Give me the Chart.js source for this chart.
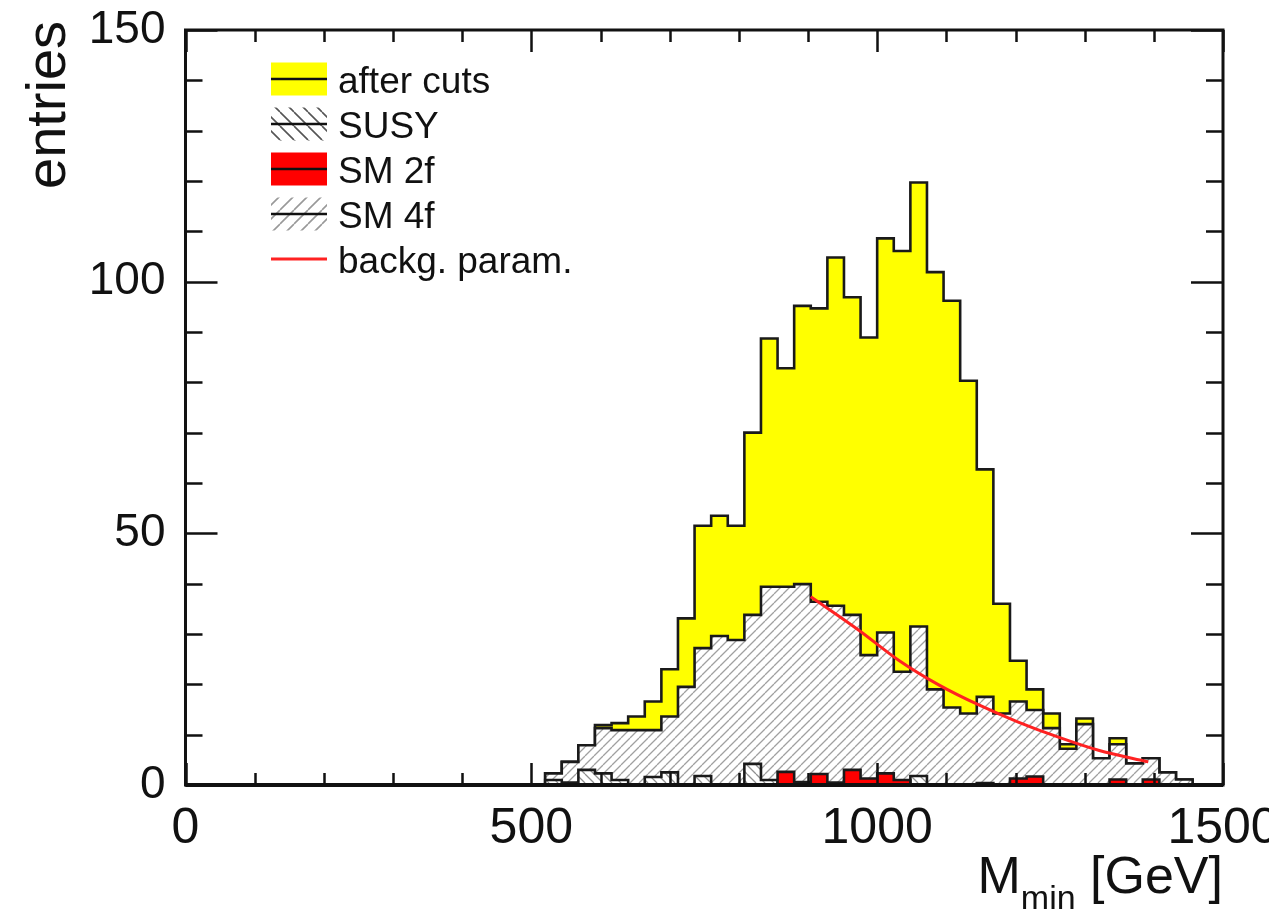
<!DOCTYPE html>
<html>
<head>
<meta charset="utf-8">
<title>M_min distribution</title>
<script src="https://cdn.jsdelivr.net/npm/chart.js@4.4.1/dist/chart.umd.min.js"></script>
<style>
    html, body { margin: 0; padding: 0; background: #ffffff; }
    canvas { display: block; }
</style>
</head>
<body>
<canvas id="mminChart" width="1269" height="913"></canvas>
<script>
// Bin edges in GeV (39 bins of 24 GeV, last entry is the upper edge)
const binEdges = [520, 544, 568, 592, 616, 640, 664, 688, 712, 736,
    760, 784, 808, 832, 856, 880, 904, 928, 952, 976,
    1000, 1024, 1048, 1072, 1096, 1120, 1144, 1168, 1192, 1216,
    1240, 1264, 1288, 1312, 1336, 1360, 1384, 1408, 1432, 1456];

// Entries per bin
const afterCuts = [2.3, 4.6, 7.9, 11.9, 12.3, 13.6, 16.6, 23.0, 33.1, 51.5,
    53.5, 51.5, 70.0, 88.7, 82.8, 95.2, 94.7, 104.8, 96.9, 88.9,
    108.6, 106.1, 119.7, 101.9, 96.2, 80.3, 62.7, 36.0, 24.7, 19.0,
    14.2, 8.1, 13.2, 5.3, 9.3, 4.3, 5.3, 2.5, 1.1];
const sm4f = [2.3, 4.6, 7.9, 11.3, 10.9, 10.9, 10.9, 13.6, 19.5, 27.2,
    29.6, 28.8, 33.8, 39.4, 39.4, 39.9, 36.4, 35.6, 33.8, 25.8,
    30.3, 22.5, 31.5, 19.0, 15.4, 14.2, 17.5, 14.2, 16.6, 14.9,
    11.3, 7.2, 12.1, 5.3, 8.1, 4.3, 5.3, 2.5, 1.1];
const susy = [1.0, 0.5, 3.0, 2.3, 1.0, 0, 1.6, 2.5, 0, 1.8,
    0, 0, 4.2, 1.0, 0.5, 0.6, 0.3, 0.5, 0.8, 0.5,
    0.4, 0.3, 1.8, 0, 0, 0, 0.4, 0, 0, 0,
    0, 0, 0, 0, 0, 0, 0, 0, 0];
const sm2f = [0, 0, 0, 0, 0, 0, 0, 0, 0, 0,
    0, 0, 0, 0, 2.6, 0, 2.2, 0, 3.0, 1.3,
    2.3, 1.0, 0, 0, 0, 0, 0, 0, 1.3, 1.7,
    0, 0, 0, 0, 1.1, 0, 1.1, 0, 0];

// Background parametrisation curve
const paramX = [904, 973, 1031, 1089, 1147, 1204, 1262, 1320, 1392];
const paramY = [37.4, 30.8, 24.8, 19.9, 15.9, 12.5, 9.5, 6.9, 4.6];

// Axis labels
const xTickLabels = [0, 500, 1000, 1500];
const yTickLabels = [0, 50, 100, 150];
const legendLabels = ['after cuts', 'SUSY', 'SM 2f', 'SM 4f', 'backg. param.'];

const FONT = "'Liberation Sans', Arial, Helvetica, sans-serif";
const TEXT_COLOR = '#111111';
const OUTLINE = '#1a1a1a';

/**
 * Diagonal hatch pattern
 * @param {boolean} forward - '/' lines if true, '\' lines otherwise
 */
function makeHatch(forward, color, period, width) {
    const c = document.createElement('canvas');
    c.width = period;
    c.height = period;
    const g = c.getContext('2d');
    g.fillStyle = '#ffffff';
    g.fillRect(0, 0, period, period);
    g.strokeStyle = color;
    g.lineWidth = width;
    g.beginPath();
    for (let k = -1; k <= 1; k++) {
        const o = k * period;
        if (forward) {
            g.moveTo(o, period);
            g.lineTo(o + period, 0);
        } else {
            g.moveTo(o, 0);
            g.lineTo(o + period, period);
        }
    }
    g.stroke();
    return g.createPattern(c, 'repeat');
}

const HATCH_4F = makeHatch(true, '#a0a0a0', 9, 1.3);
const HATCH_SUSY = makeHatch(false, '#909090', 9, 1.3);
const LEGEND_HATCH_4F = makeHatch(true, '#999999', 14, 1.6);
const LEGEND_HATCH_SUSY = makeHatch(false, '#555555', 14, 1.6);

// Turn bin contents into step points: rise at the first edge, fall at the last one
function toSteps(values) {
    const pts = [{ x: binEdges[0], y: 0 }];
    values.forEach((v, i) => pts.push({ x: binEdges[i], y: v }));
    pts.push({ x: binEdges[binEdges.length - 1], y: 0 });
    return pts;
}

function histDataset(label, values, fill, order) {
    return {
        label: label,
        data: toSteps(values),
        stepped: true,
        fill: 'origin',
        backgroundColor: fill,
        borderColor: OUTLINE,
        borderWidth: 2.6,
        pointRadius: 0,
        order: order
    };
}

// Frame, inside ticks, legend and axis titles (ROOT style)
const rootStyle = {
    id: 'rootStyle',
    afterDatasetsDraw(chart) {
        const { ctx, chartArea: a, scales } = chart;
        const xs = scales.x, ys = scales.y;
        ctx.save();
        ctx.strokeStyle = '#111111';
        ctx.lineWidth = 2.5;
        ctx.beginPath();
        for (let v = 0; v <= 150; v += 10) {
            const py = Math.round(ys.getPixelForValue(v)) + 0.5;
            const len = v % 50 === 0 ? 32 : 17;
            ctx.moveTo(a.left, py); ctx.lineTo(a.left + len, py);
            ctx.moveTo(a.right, py); ctx.lineTo(a.right - len, py);
        }
        for (let v = 0; v <= 1500; v += 100) {
            const px = Math.round(xs.getPixelForValue(v)) + 0.5;
            const len = v % 500 === 0 ? 22 : 12;
            ctx.moveTo(px, a.bottom); ctx.lineTo(px, a.bottom - len);
            ctx.moveTo(px, a.top); ctx.lineTo(px, a.top + len);
        }
        ctx.stroke();
        ctx.lineWidth = 3;
        ctx.strokeRect(a.left, a.top, a.right - a.left, a.bottom - a.top);
        ctx.lineWidth = 4;
        ctx.beginPath();
        ctx.moveTo(a.left, a.bottom);
        ctx.lineTo(a.right, a.bottom);
        ctx.stroke();
        ctx.restore();
    },
    afterDraw(chart) {
        const { ctx, chartArea: a } = chart;
        const ds = chart.data.datasets;
        ctx.save();

        // legend
        const fills = [ds[4].backgroundColor, LEGEND_HATCH_SUSY, ds[1].backgroundColor, LEGEND_HATCH_4F, null];
        const boxL = 271, boxW = 56, boxH = 33;
        legendLabels.forEach((text, i) => {
            const cy = 79 + 45 * i;
            if (fills[i]) {
                ctx.fillStyle = fills[i];
                ctx.fillRect(boxL, cy - boxH / 2, boxW, boxH);
                ctx.strokeStyle = '#111111';
                ctx.lineWidth = 2.5;
            } else {
                ctx.strokeStyle = ds[0].borderColor;
                ctx.lineWidth = 3;
            }
            ctx.beginPath();
            ctx.moveTo(boxL, cy);
            ctx.lineTo(boxL + boxW, cy);
            ctx.stroke();
            ctx.fillStyle = TEXT_COLOR;
            ctx.font = '37px ' + FONT;
            ctx.textAlign = 'left';
            ctx.textBaseline = 'alphabetic';
            ctx.fillText(text, 338, cy + 14);
        });

        // y title
        ctx.save();
        ctx.translate(65, 189);
        ctx.rotate(-Math.PI / 2);
        ctx.font = '56px ' + FONT;
        ctx.fillText('entries', 0, 0);
        ctx.restore();

        // x title: M_min [GeV], right aligned to the frame
        const big = '52px ' + FONT, small = '34px ' + FONT;
        ctx.font = big;
        const wM = ctx.measureText('M').width;
        const wUnit = ctx.measureText(' [GeV]').width;
        ctx.font = small;
        const wSub = ctx.measureText('min').width;
        let x = a.right - (wM + wSub + wUnit);
        ctx.font = big;
        ctx.fillText('M', x, 893);
        x += wM;
        ctx.font = small;
        ctx.fillText('min', x, 909);
        x += wSub;
        ctx.font = big;
        ctx.fillText(' [GeV]', x, 893);
        ctx.restore();
    }
};

const ctx = document.getElementById('mminChart').getContext('2d');
new Chart(ctx, {
    type: 'line',
    data: {
        datasets: [
            {
                label: legendLabels[4],
                data: paramX.map((x, i) => ({ x: x, y: paramY[i] })),
                borderColor: '#ff2222',
                borderWidth: 3,
                fill: false,
                tension: 0.4,
                cubicInterpolationMode: 'monotone',
                pointRadius: 0,
                order: 0
            },
            histDataset(legendLabels[2], sm2f, '#ff0000', 1),
            histDataset(legendLabels[1], susy, HATCH_SUSY, 2),
            histDataset(legendLabels[3], sm4f, HATCH_4F, 3),
            histDataset(legendLabels[0], afterCuts, '#ffff00', 4)
        ]
    },
    options: {
        responsive: false,
        animation: false,
        devicePixelRatio: 1,
        layout: { padding: { top: 30, right: 46, bottom: 0, left: 0 } },
        plugins: {
            legend: { display: false },
            tooltip: { enabled: false }
        },
        scales: {
            x: {
                type: 'linear',
                min: 0,
                max: 1500,
                grid: { display: false, drawTicks: false },
                border: { display: false },
                ticks: {
                    stepSize: 100,
                    autoSkip: false,
                    maxRotation: 0,
                    padding: 14,
                    color: TEXT_COLOR,
                    font: { family: FONT, size: 50 },
                    callback: (v) => xTickLabels.includes(v) ? String(v) : ''
                },
                afterFit(scale) {
                    scale.height = 128;
                    scale.paddingLeft = 0;
                    scale.paddingRight = 0;
                }
            },
            y: {
                min: 0,
                max: 150,
                grid: { display: false, drawTicks: false },
                border: { display: false },
                ticks: {
                    stepSize: 10,
                    autoSkip: false,
                    padding: 20,
                    color: TEXT_COLOR,
                    font: { family: FONT, size: 46 },
                    callback: (v) => yTickLabels.includes(v) ? String(v) : ''
                },
                afterFit(scale) {
                    scale.width = 185.5;
                    scale.paddingTop = 0;
                    scale.paddingBottom = 0;
                }
            }
        }
    },
    plugins: [rootStyle]
});
</script>
</body>
</html>
